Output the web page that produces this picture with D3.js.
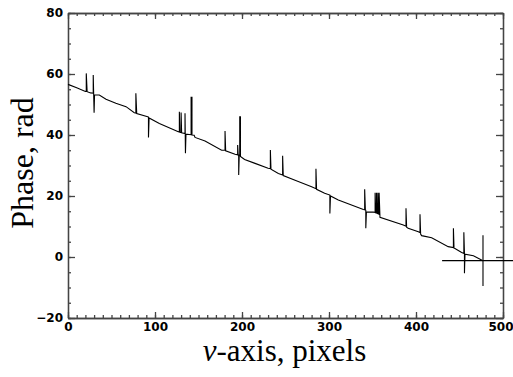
<!DOCTYPE html>
<html>
<head>
<meta charset="utf-8">
<script src="https://cdnjs.cloudflare.com/ajax/libs/d3/7.8.5/d3.min.js"></script>
<style>
  body { margin: 0; background: white; }
  svg { display: block; }
</style>
</head>
<body>
<script>

// data: v-axis position and phase
var vValues = [0, 10, 20, 21, 21, 22, 26, 29, 29, 30, 30.5, 36, 43.7, 55, 66.7, 76.2,
  78, 78, 79, 91.6, 92.5, 92.5, 93.2, 105, 126.8, 128, 128, 128.6, 130, 130, 130.6,
  134.5, 134.5, 135, 135.6, 141.5, 141.5, 142.5, 142.5, 145, 146, 157.5, 176.6,
  180.5, 180.5, 181.2, 192, 195, 195, 195.6, 196.2, 196.2, 196.8, 197.4, 197.4, 198.2, 198.2,
  203, 215, 230, 232.6, 232.6, 233.3, 241.8, 246.7, 246.7, 247.4, 261, 280,
  285, 285, 285.7, 295, 301, 301, 301.7, 310.7, 339.5, 341, 341, 341.8, 342.3, 342.3, 343, 351,
  353, 353, 353.6, 354.6, 354.6, 355.2, 356.2, 356.2, 356.8, 357.6, 357.6, 358.6,
  385.4, 388.5, 388.5, 389.2, 391, 402.7, 404.6, 404.6, 405.3, 406.5, 418, 437,
  443, 443, 443.7, 444.8, 452.5, 455, 455, 455.7, 455.7, 456.3, 466, 477];

var phaseValues = [56.6, 55.5, 54.3, 54.3, 60.2, 54.2, 53.8, 53.7, 59.7, 47.3, 53.2, 53.1, 51.7, 50.4, 49.3, 47.3,
  47.2, 53.7, 47, 46, 45.9, 39.2, 45.6, 43.8, 41.1, 41, 47.6, 40.9, 40.8, 47.4, 40.7,
  40.5, 47.1, 34, 40.3, 40.1, 52.4, 52.4, 40, 39.9, 39.2, 38, 35,
  35, 41.3, 34.8, 33.7, 33.5, 36.7, 33.4, 33.4, 26.9, 33.3, 33.3, 46, 46, 33,
  32, 30.7, 29.1, 29, 35.1, 28.8, 27.4, 26.9, 33.2, 26.7, 25.2, 23,
  22.4, 28.9, 22.2, 20.9, 20.3, 14.3, 20, 18.7, 15.6, 15.5, 22.2, 15.4, 15.3, 9.4, 14.7, 14.7,
  14.6, 21.1, 14.5, 14.4, 21.1, 14.3, 14.2, 21.1, 14.1, 14, 21.1, 13,
  10.5, 10.1, 16, 9.8, 9.4, 8.3, 8, 14, 7.5, 7, 6.3, 3.4,
  3.1, 9.4, 2.9, 2.8, 1.5, 1.2, 8.1, 1, -5.3, 0.9, 0.4, -1.2];

// crosshair at the last point
var crossV = [430, 524];
var crossPhase = [7.1, -9.5];
var crossCenter = [477, -1.2];

// tick labels
var xTicks = [0, 100, 200, 300, 400, 500];
var yTicks = [-20, 0, 20, 40, 60, 80];

var svgWidth = 513;
var svgHeight = 377;

var margin = {
  top: 13,
  right: 10,
  bottom: 59,
  left: 68
};

var chartWidth = svgWidth - margin.left - margin.right;
var chartHeight = svgHeight - margin.top - margin.bottom;

var svg = d3.select('body')
  .append('svg')
  .attr('width', svgWidth)
  .attr('height', svgHeight);

var g = svg.append('g')
  .attr('transform', `translate(${margin.left}, ${margin.top})`);

var xScale = d3.scaleLinear()
  .domain([0, 500])
  .range([0, chartWidth]);

var yScale = d3.scaleLinear()
  .domain([-20, 80])
  .range([chartHeight, 0]);

// minor ticks first, then major ticks with labels, all pointing inward
function styleAxis(sel) {
  sel.selectAll('path, line').attr('stroke', '#444').attr('stroke-width', 1.3);
  sel.selectAll('text')
    .attr('fill', 'black')
    .style('font-family', '"DejaVu Sans", sans-serif')
    .style('font-weight', 'bold')
    .style('font-size', '12px');
}

var xMinor = d3.range(0, 501, 10);
var yMinor = d3.range(-20, 81, 5);

g.append('g')
  .attr('transform', `translate(0, ${chartHeight})`)
  .call(d3.axisBottom(xScale).tickValues(xMinor).tickSize(-3).tickSizeOuter(0).tickFormat(''))
  .call(styleAxis);
var xAxisMajor = g.append('g')
  .attr('transform', `translate(0, ${chartHeight})`)
  .call(d3.axisBottom(xScale).tickValues(xTicks).tickSize(-6).tickSizeOuter(0).tickPadding(4).tickFormat(d3.format('d')))
  .call(styleAxis);

// last label sits against the right edge, as in the picture
xAxisMajor.selectAll('.tick text')
  .filter(d => d === 500)
  .attr('text-anchor', 'end')
  .attr('x', 10);

g.append('g')
  .call(d3.axisTop(xScale).tickValues(xMinor).tickSize(-3).tickSizeOuter(0).tickFormat(''))
  .call(styleAxis);
g.append('g')
  .call(d3.axisTop(xScale).tickValues(xTicks).tickSize(-6).tickSizeOuter(0).tickFormat(''))
  .call(styleAxis);

g.append('g')
  .call(d3.axisLeft(yScale).tickValues(yMinor).tickSize(-3).tickSizeOuter(0).tickFormat(''))
  .call(styleAxis);
g.append('g')
  .call(d3.axisLeft(yScale).tickValues(yTicks).tickSize(-7).tickSizeOuter(0).tickPadding(5).tickFormat(d3.format('d')))
  .call(styleAxis);

g.append('g')
  .attr('transform', `translate(${chartWidth}, 0)`)
  .call(d3.axisRight(yScale).tickValues(yMinor).tickSize(-3).tickSizeOuter(0).tickFormat(''))
  .call(styleAxis);
g.append('g')
  .attr('transform', `translate(${chartWidth}, 0)`)
  .call(d3.axisRight(yScale).tickValues(yTicks).tickSize(-7).tickSizeOuter(0).tickFormat(''))
  .call(styleAxis);

// the phase line
var points = vValues.map((v, i) => [v, phaseValues[i]]);

var line = d3.line()
  .x(d => xScale(d[0]))
  .y(d => yScale(d[1]));

g.append('path')
  .datum(points)
  .attr('d', line)
  .attr('fill', 'none')
  .attr('stroke', 'black')
  .attr('stroke-width', 1.1);

// crosshair
g.append('line')
  .attr('x1', xScale(crossV[0]))
  .attr('x2', xScale(crossV[1]))
  .attr('y1', yScale(crossCenter[1]))
  .attr('y2', yScale(crossCenter[1]))
  .attr('stroke', 'black')
  .attr('stroke-width', 1.1);

g.append('line')
  .attr('x1', xScale(crossCenter[0]))
  .attr('x2', xScale(crossCenter[0]))
  .attr('y1', yScale(crossPhase[0]))
  .attr('y2', yScale(crossPhase[1]))
  .attr('stroke', 'black')
  .attr('stroke-width', 1.1);

// axis titles
svg.append('text')
  .attr('transform', `translate(33, 163) rotate(-90)`)
  .attr('text-anchor', 'middle')
  .style('font-family', '"Liberation Serif", "Times New Roman", serif')
  .style('font-size', '32px')
  .text('Phase, rad');

var xTitle = svg.append('text')
  .attr('x', margin.left + chartWidth / 2 - 1)
  .attr('y', 361)
  .attr('text-anchor', 'middle')
  .style('font-family', '"Liberation Serif", "Times New Roman", serif')
  .style('font-size', '31px');
xTitle.append('tspan').style('font-style', 'italic').text('v');
xTitle.append('tspan').text('-axis, pixels');

</script>
</body>
</html>
